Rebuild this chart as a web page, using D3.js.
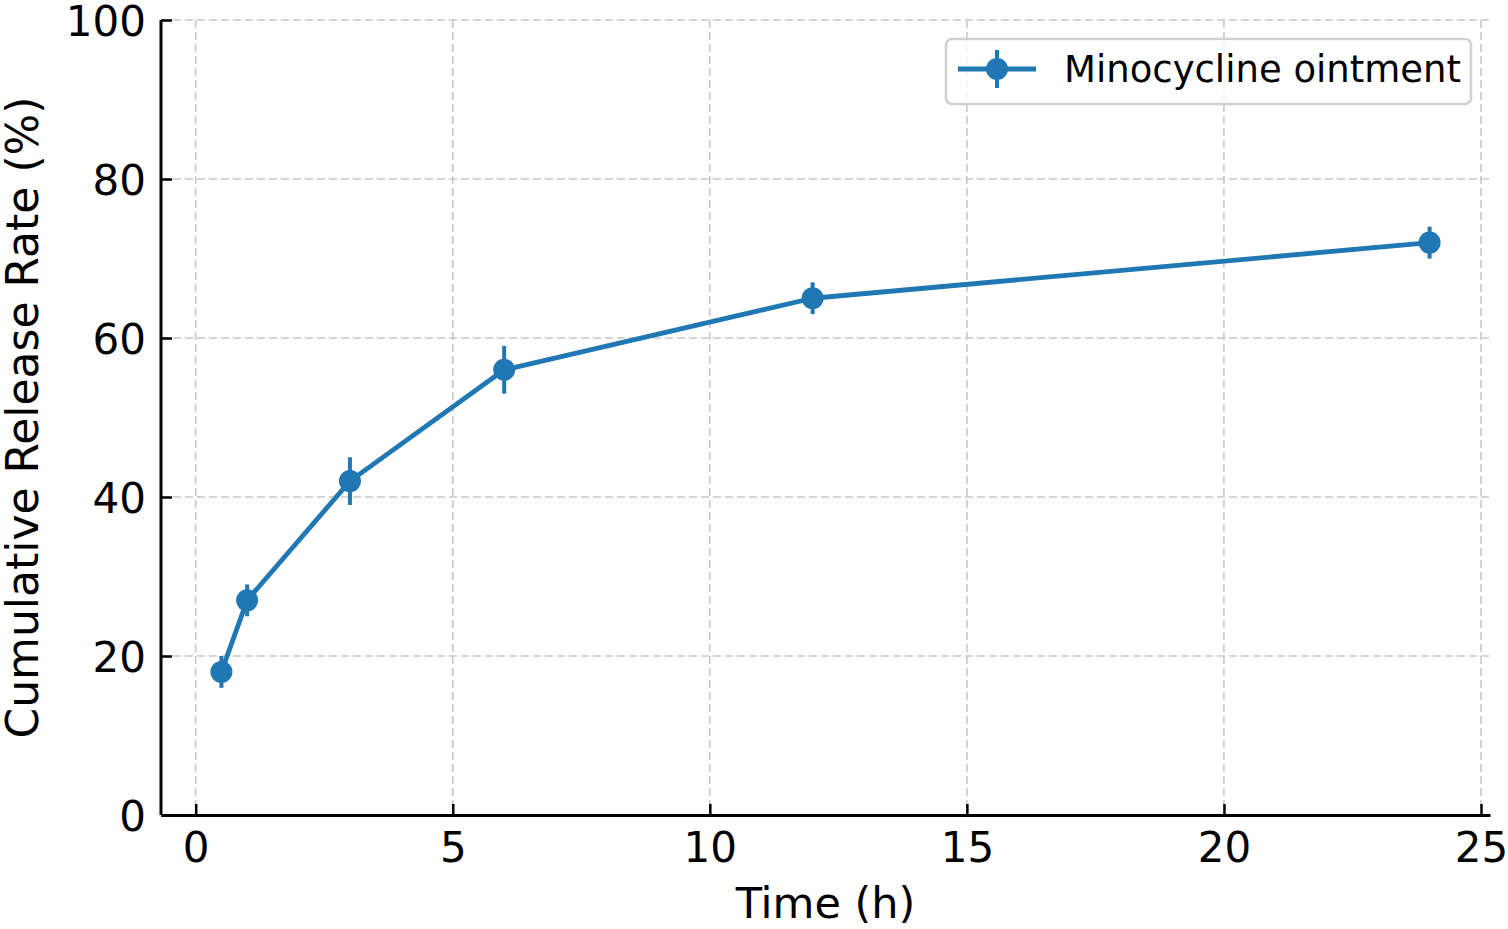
<!DOCTYPE html>
<html>
<head>
<meta charset="utf-8">
<script src="https://cdn.jsdelivr.net/npm/d3@7"></script>
<style>
    body { margin: 0; background: #fff; }
    text { font-family: "DejaVu Sans", sans-serif; fill: #000; }
</style>
</head>
<body>
<script>
// data
var times = [0.5, 1, 3, 6, 12, 24];
var release = [18, 27, 42, 56, 65, 72];
var errors = [2, 2, 3, 3, 2, 2];
var xTicks = [0, 5, 10, 15, 20, 25];
var yTicks = [0, 20, 40, 60, 80, 100];
var seriesName = 'Minocycline ointment';

var W = 1508, H = 929;
var margin = {top: 20, right: 18, bottom: 114, left: 161};
var width = W - margin.left - margin.right;
var height = H - margin.top - margin.bottom;
var blue = '#1f77b4';

var svg = d3.select('body').append('svg')
    .attr('width', W)
    .attr('height', H);

var g = svg.append('g')
    .attr('transform', 'translate(' + margin.left + ',' + margin.top + ')');

//scales (matplotlib-like 5% margins on x)
var span = d3.max(times) - d3.min(times);
var xScale = d3.scaleLinear()
    .domain([d3.min(times) - span * 0.05, d3.max(times) + span * 0.05])
    .range([0, width]);
var yScale = d3.scaleLinear().domain([0, 100]).range([height, 0]);

//grid
g.append('g').selectAll('line')
    .data(xTicks.filter(function (t) { return xScale(t) <= width; }))
    .enter().append('line')
    .attr('x1', function (d) { return xScale(d); })
    .attr('x2', function (d) { return xScale(d); })
    .attr('y1', 0).attr('y2', height)
    .attr('stroke', '#c8c8c8').attr('stroke-width', 1.6)
    .attr('stroke-dasharray', '8,4');

g.append('g').selectAll('line')
    .data(yTicks)
    .enter().append('line')
    .attr('x1', 0).attr('x2', width)
    .attr('y1', function (d) { return yScale(d); })
    .attr('y2', function (d) { return yScale(d); })
    .attr('stroke', '#c8c8c8').attr('stroke-width', 1.6)
    .attr('stroke-dasharray', '8,4');

//axes
var xAxis = g.append('g')
    .attr('transform', 'translate(0,' + height + ')')
    .call(d3.axisBottom(xScale).tickValues(xTicks).tickSizeInner(-11).tickSizeOuter(0).tickPadding(17));
var yAxis = g.append('g')
    .call(d3.axisLeft(yScale).tickValues(yTicks).tickSizeInner(-11).tickSizeOuter(0).tickPadding(15));

[xAxis, yAxis].forEach(function (a) {
    a.select('.domain').attr('stroke', '#000').attr('stroke-width', 3);
    a.selectAll('.tick line').attr('stroke', '#000').attr('stroke-width', 2.5);
    a.selectAll('.tick text')
        .style('font-family', '"DejaVu Sans", sans-serif')
        .style('font-size', '42px')
        .attr('fill', '#000');
});
xAxis.selectAll('.tick text').attr('dy', '0.71em');
yAxis.selectAll('.tick text').attr('dy', '0.36em');
yAxis.select('.domain').attr('d', 'M0,' + height + 'V0');

//axis labels
svg.append('text')
    .attr('x', margin.left + width / 2)
    .attr('y', 918)
    .attr('text-anchor', 'middle')
    .style('font-size', '43px')
    .text('Time (h)');

svg.append('text')
    .attr('transform', 'translate(38,' + (margin.top + height / 2) + ') rotate(-90)')
    .attr('text-anchor', 'middle')
    .style('font-size', '44px')
    .text('Cumulative Release Rate (%)');

//line
var points = times.map(function (t, i) {
    return {t: t, v: release[i], e: errors[i]};
});

g.append('path')
    .datum(points)
    .attr('fill', 'none')
    .attr('stroke', blue)
    .attr('stroke-width', 4.8)
    .attr('stroke-linejoin', 'round')
    .attr('d', d3.line()
        .x(function (d) { return xScale(d.t); })
        .y(function (d) { return yScale(d.v); }));

//error bars
g.append('g').selectAll('line')
    .data(points)
    .enter().append('line')
    .attr('x1', function (d) { return xScale(d.t); })
    .attr('x2', function (d) { return xScale(d.t); })
    .attr('y1', function (d) { return yScale(d.v - d.e); })
    .attr('y2', function (d) { return yScale(d.v + d.e); })
    .attr('stroke', blue)
    .attr('stroke-width', 4);

//markers
g.append('g').selectAll('circle')
    .data(points)
    .enter().append('circle')
    .attr('cx', function (d) { return xScale(d.t); })
    .attr('cy', function (d) { return yScale(d.v); })
    .attr('r', 11)
    .attr('fill', blue);

//legend
var legend = svg.append('g').attr('transform', 'translate(946,39)');
legend.append('rect')
    .attr('x', 0).attr('y', 0)
    .attr('width', 525).attr('height', 65)
    .attr('rx', 6)
    .attr('fill', '#fff').attr('fill-opacity', 0.8)
    .attr('stroke', '#d0d0d0').attr('stroke-width', 2.5);
legend.append('line')
    .attr('x1', 12).attr('x2', 90).attr('y1', 30).attr('y2', 30)
    .attr('stroke', blue).attr('stroke-width', 4.8);
legend.append('line')
    .attr('x1', 51).attr('x2', 51).attr('y1', 11).attr('y2', 49)
    .attr('stroke', blue).attr('stroke-width', 4);
legend.append('circle')
    .attr('cx', 51).attr('cy', 30).attr('r', 11).attr('fill', blue);
legend.append('text')
    .attr('x', 118).attr('y', 43)
    .style('font-size', '37px')
    .attr('fill', '#222')
    .text(seriesName);
</script>
</body>
</html>
